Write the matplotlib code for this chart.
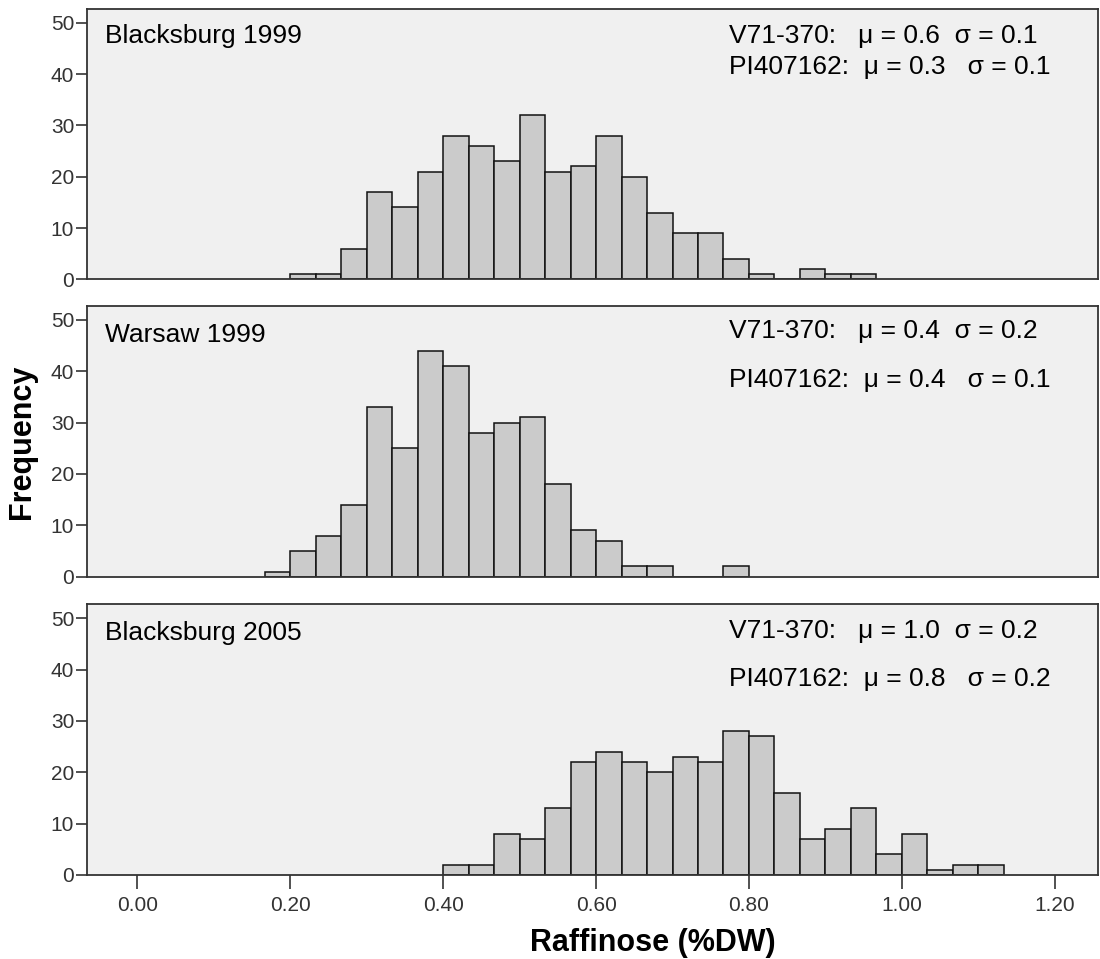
import numpy as np
import matplotlib
matplotlib.use("Agg")
import matplotlib.pyplot as plt

plt.rcParams['font.family'] = ['Liberation Sans', 'DejaVu Sans']

# histogram data (bin width 1/30 %DW)
bin_width = 1.0 / 30
sites = ["Blacksburg 1999", "Warsaw 1999", "Blacksburg 2005"]
first_edge = [0.20, 1.0 / 6, 0.40]
counts_bb99 = [1, 1, 6, 17, 14, 21, 28, 26, 23, 32, 21, 22, 28, 20, 13, 9, 9, 4, 1, 0, 2, 1, 1]
counts_wa99 = [1, 5, 8, 14, 33, 25, 44, 41, 28, 30, 31, 18, 9, 7, 2, 2, 0, 0, 2]
counts_bb05 = [2, 2, 8, 7, 13, 22, 24, 22, 20, 23, 22, 28, 27, 16, 7, 9, 13, 4, 8, 1, 2, 2]
all_counts = [counts_bb99, counts_wa99, counts_bb05]

# parent statistics shown in each panel
v71_line = ["V71-370:   \u03bc = 0.6  \u03c3 = 0.1",
            "V71-370:   \u03bc = 0.4  \u03c3 = 0.2",
            "V71-370:   \u03bc = 1.0  \u03c3 = 0.2"]
pi_line = ["PI407162:  \u03bc = 0.3   \u03c3 = 0.1",
           "PI407162:  \u03bc = 0.4   \u03c3 = 0.1",
           "PI407162:  \u03bc = 0.8   \u03c3 = 0.2"]

x_ticks = [0.0, 0.2, 0.4, 0.6, 0.8, 1.0, 1.2]
y_ticks = [0, 10, 20, 30, 40, 50]

W, H = 1100, 959
fig = plt.figure(figsize=(W / 100, H / 100), dpi=100)

# axes boxes in pixels (top, bottom)
left_px, right_px = 86.7, 1098
boxes = [(9, 279.3), (306, 576.7), (604.3, 875)]
line1_y = [0.875, 0.881, 0.8755]
line2_y = [0.7595, 0.702, 0.698]
label_y = [0.875, 0.868, 0.868]

frame_col = '#333333'
axes = []
for k in range(3):
    top, bot = boxes[k]
    ax = fig.add_axes([left_px / W, 1 - bot / H, (right_px - left_px) / W, (bot - top) / H])
    axes.append(ax)
    ax.set_facecolor('#f0f0f0')

    counts = np.array(all_counts[k])
    edges = first_edge[k] + bin_width * np.arange(len(counts))
    ax.bar(edges, counts, width=bin_width, align='edge',
           color='#cbcbcb', edgecolor='#111111', linewidth=1.1, zorder=2)

    ax.set_xlim(-0.0664, 1.2566)
    ax.set_ylim(0, 52.7)
    ax.set_yticks(y_ticks)
    ax.tick_params(axis='y', direction='out', length=8, width=1.2, color=frame_col,
                   labelsize=15, labelcolor='#333333', pad=1)
    for s in ax.spines.values():
        s.set_color(frame_col)
        s.set_linewidth(1.3)
        s.set_zorder(3)

    ax.text(0.018, label_y[k], sites[k], transform=ax.transAxes,
            fontsize=19, va='baseline', ha='left')
    ax.text(0.635, line1_y[k], v71_line[k], transform=ax.transAxes,
            fontsize=19, va='baseline', ha='left')
    ax.text(0.635, line2_y[k], pi_line[k], transform=ax.transAxes,
            fontsize=19, va='baseline', ha='left')

    if k < 2:
        ax.set_xticks([])
    else:
        ax.set_xticks(x_ticks)
        ax.set_xticklabels(["%.2f" % v for v in x_ticks])
        ax.tick_params(axis='x', direction='out', length=10, width=1.2, color=frame_col,
                       labelsize=15, labelcolor='#333333', pad=5)

axes[2].set_xlabel("Raffinose (%DW)", fontsize=22, fontweight='bold')
axes[2].xaxis.set_label_coords(0.56, -0.28)
axes[2].xaxis.label.set_va('baseline')
fig.text(22 / W, 1 - 441.5 / H, "Frequency", rotation=90, fontsize=22,
         fontweight='bold', ha='center', va='center')

fig.savefig("out.png", dpi=100)
